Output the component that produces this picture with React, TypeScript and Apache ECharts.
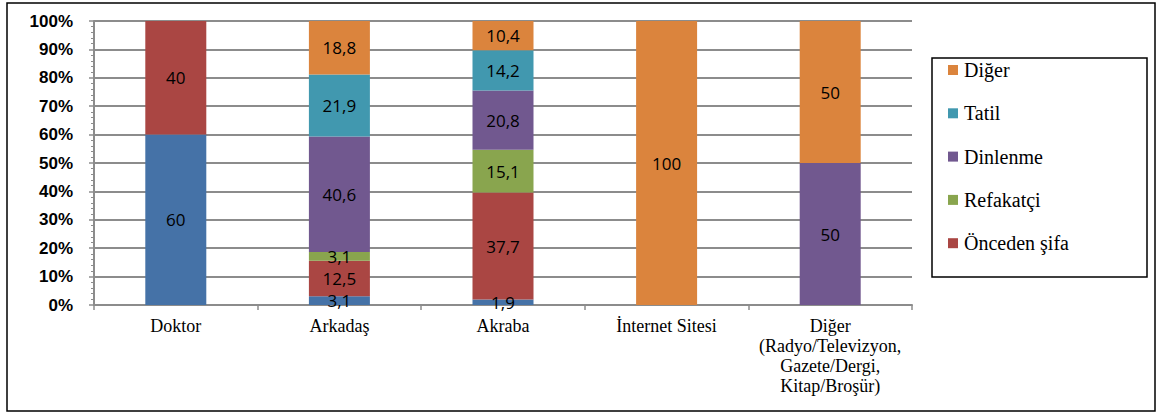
import React, { useEffect, useRef } from "react";
import * as echarts from "echarts";

const categories = [
  "Doktor",
  "Arkadaş",
  "Akraba",
  "İnternet Sitesi",
  "Diğer\n(Radyo/Televizyon,\nGazete/Dergi,\nKitap/Broşür)",
];

const tedavi = [60, 3.1, 1.9, 0, 0];
const oncedenSifa = [40, 12.5, 37.7, 0, 0];
const refakatci = [0, 3.1, 15.1, 0, 0];
const dinlenme = [0, 40.6, 20.8, 0, 50];
const tatil = [0, 21.9, 14.2, 0, 0];
const diger = [0, 18.8, 10.4, 100, 50];

const legendNames = ["Diğer", "Tatil", "Dinlenme", "Refakatçi", "Önceden şifa"];
const legendColors = ["#DB843D", "#4198AF", "#71588F", "#89A54E", "#AA4643"];

const SERIF = "Liberation Serif";

export default function App() {
  const ref = useRef<HTMLDivElement>(null);
  useEffect(() => {
    document.body.style.margin = "0";
    const chart = echarts.init(ref.current!, null, { renderer: "svg" });
    const mk = (name: string, data: number[], color: string) => ({
      name,
      type: "bar",
      stack: "total",
      barWidth: 61,
      data,
      itemStyle: { color },
      label: {
        show: true,
        position: "inside",
        color: "#000",
        fontFamily: "Open Sans",
        fontSize: 17,
        formatter: (p: any) =>
          p.value === 0 ? "" : String(p.value).replace(".", ","),
      },
    });
    const legendGraphics: any[] = [];
    legendNames.forEach((name, i) => {
      const cy = 70 + i * 43.3;
      legendGraphics.push({
        type: "rect",
        shape: { x: 948, y: cy - 5, width: 10, height: 10 },
        style: { fill: legendColors[i] },
        silent: true,
      });
      legendGraphics.push({
        type: "text",
        x: 964,
        y: cy,
        style: {
          text: name,
          fontFamily: SERIF,
          fontSize: 20,
          fill: "#000",
          verticalAlign: "middle",
          align: "left",
        },
        silent: true,
      });
    });
    chart.setOption({
      animation: false,
      backgroundColor: "#fff",
      grid: { left: 94, right: 250, top: 21, bottom: 109 },
      xAxis: {
        type: "category",
        data: categories,
        axisLine: { lineStyle: { color: "#8c8c8c", width: 2 } },
        axisTick: { show: true, length: 5, lineStyle: { color: "#8c8c8c", width: 1.5 } },
        axisLabel: {
          color: "#000",
          fontFamily: SERIF,
          fontSize: 18,
          lineHeight: 20,
          margin: 11,
          interval: 0,
        },
      },
      yAxis: {
        type: "value",
        min: 0,
        max: 100,
        interval: 10,
        axisLine: { show: true, lineStyle: { color: "#8c8c8c", width: 2 } },
        axisTick: { show: true, length: 5, lineStyle: { color: "#8c8c8c", width: 1.5 } },
        minorTick: { show: true, splitNumber: 5, length: 3, lineStyle: { color: "#8c8c8c" } },
        splitLine: { show: true, lineStyle: { color: "#8c8c8c", width: 2 } },
        axisLabel: {
          formatter: "{value}%",
          color: "#000",
          fontFamily: "Liberation Sans",
          fontWeight: "bold",
          fontSize: 17,
          margin: 21,
        },
      },
      graphic: [
        {
          type: "rect",
          shape: { x: 7, y: 3, width: 1148, height: 408 },
          style: { fill: "none", stroke: "#000", lineWidth: 1.5 },
          silent: true,
        },
        {
          type: "rect",
          shape: { x: 932, y: 58, width: 215, height: 219 },
          style: { fill: "none", stroke: "#000", lineWidth: 1.5 },
          silent: true,
        },
        ...legendGraphics,
      ],
      series: [
        mk("Tedavi", tedavi, "#4572A7"),
        mk("Önceden şifa", oncedenSifa, "#AA4643"),
        mk("Refakatçi", refakatci, "#89A54E"),
        mk("Dinlenme", dinlenme, "#71588F"),
        mk("Tatil", tatil, "#4198AF"),
        mk("Diğer", diger, "#DB843D"),
      ],
    });
    return () => chart.dispose();
  }, []);
  return <div ref={ref} style={{ width: 1162, height: 414 }} />;
}
